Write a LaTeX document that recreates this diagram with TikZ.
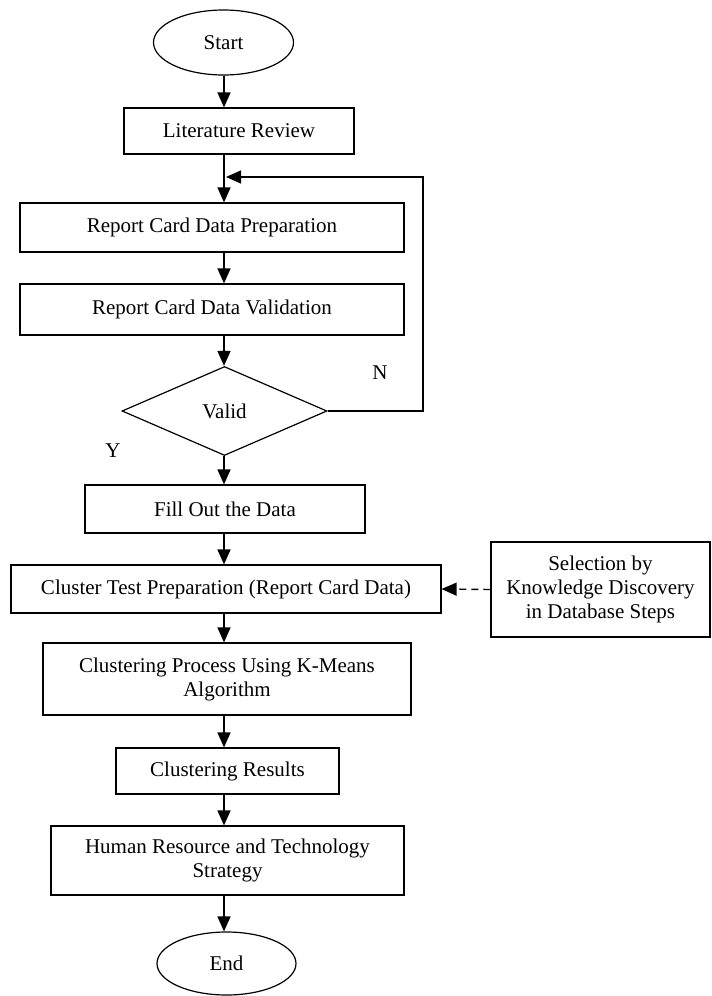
\documentclass[tikz,border=0pt]{standalone}
\usepackage{fontspec}
\setmainfont{Liberation Serif}
\usetikzlibrary{shapes.geometric,arrows.meta}
\begin{document}
\begin{tikzpicture}[x=1pt,y=-1pt,
  every node/.style={font=\fontsize{21}{24}\selectfont, inner sep=0pt},
  box/.style={draw, line width=1.2pt, rectangle, align=center},
  oval/.style={draw, line width=1.2pt, ellipse},
  flow/.style={line width=1.4pt, -{Triangle[length=15pt,width=13pt]}},
  plain/.style={line width=1.3pt}
]
\useasboundingbox (0,0) rectangle (712,996);
\coordinate (spine) at (224,0);

\node[oval, minimum width=140pt, minimum height=65pt] (start) at (223.5,42.5) {Start};
\node[box, minimum width=230pt, minimum height=46pt] (lit) at (239,131) {Literature Review};
\node[box, minimum width=384pt, minimum height=49pt] (prep) at (212,227.5) {Report Card Data Preparation};
\node[box, minimum width=384pt, minimum height=51pt] (valid) at (212,309.5) {Report Card Data Validation};
\node[draw, line width=1.2pt, diamond, minimum width=205pt, minimum height=89pt] (dec) at (224.5,411) {Valid};
\node[box, minimum width=280pt, minimum height=48pt] (fill) at (225,509) {Fill Out the Data};
\node[box, minimum width=430pt, minimum height=48pt] (clus) at (226,589) {Cluster Test Preparation (Report Card Data)};
\node[box, minimum width=219pt, minimum height=95pt] (sel) at (600.5,589.5) {Selection by\\Knowledge Discovery\\in Database Steps};
\node[box, minimum width=368pt, minimum height=72pt] (proc) at (227,679) {Clustering Process Using K-Means\\Algorithm};
\node[box, minimum width=223pt, minimum height=46pt] (res) at (227.5,771) {Clustering Results};
\node[box, minimum width=353pt, minimum height=69pt] (hr) at (227.5,860.5) {Human Resource and Technology\\Strategy};
\node[oval, minimum width=139pt, minimum height=63pt] (end) at (226.5,963.5) {End};

\node (nlab) at (380,373) {N};
\node (ylab) at (113,451) {Y};

\coordinate (loopin) at (226,177);
\coordinate (loopright) at (423,177);

\draw[flow] (start.south -| spine) -- (lit.north -| spine);
\draw[flow] (lit.south -| spine) -- (prep.north -| spine);
\draw[flow] (prep.south -| spine) -- (valid.north -| spine);
\draw[flow] (valid.south -| spine) -- (dec.north -| spine);
\draw[flow] (dec.south -| spine) -- (fill.north -| spine);
\draw[flow] (fill.south -| spine) -- (clus.north -| spine);
\draw[flow] (clus.south -| spine) -- (proc.north -| spine);
\draw[flow] (proc.south -| spine) -- (res.north -| spine);
\draw[flow] (res.south -| spine) -- (hr.north -| spine);
\draw[flow] (hr.south -| spine) -- (end.north -| spine);

\draw[flow] (dec.east) -- (dec.east -| loopright) -- (loopright) -- (loopin);
\draw[flow, dash pattern=on 7pt off 5pt] (sel.west) -- (clus.east);
\end{tikzpicture}
\end{document}
